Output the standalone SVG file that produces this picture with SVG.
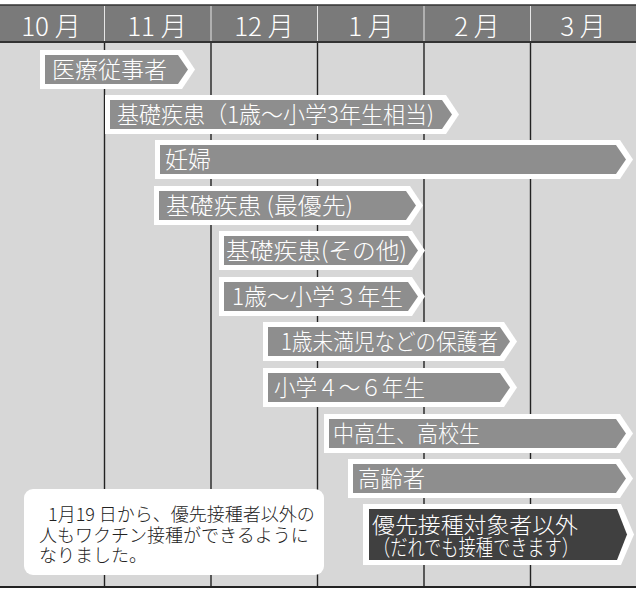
<svg xmlns="http://www.w3.org/2000/svg" width="636" height="590" viewBox="0 0 636 590">
<style>
.hdr{fill:#7a7a7a}
.mon{font-family:"Noto Sans CJK JP","Noto Sans",sans-serif;font-weight:300;font-size:26px;fill:#ffffff;text-anchor:middle}
.vl{stroke:#222;stroke-width:1.4}
.hl{stroke:#e6e6e6;stroke-width:1}
.ow{fill:#ffffff}
.in{fill:#8e8e8e}
.ind{fill:#404040}
.lb{font-family:"Noto Sans CJK JP","Noto Sans",sans-serif;font-weight:300;font-size:23px;fill:#ffffff}
.lb2{font-family:"Noto Sans CJK JP","Noto Sans",sans-serif;font-weight:300;font-size:22px;fill:#ffffff}
.nt{font-family:"Noto Sans CJK JP","Noto Sans",sans-serif;font-weight:300;font-size:18px;fill:#222222}
</style>
<rect x="0" y="0" width="636" height="590" fill="#ffffff"/>
<g id="grid">
<rect x="0" y="42" width="636" height="545" fill="#d7d7d7"/>
<rect class="hdr" x="0" y="5" width="636" height="37"/>
<line x1="0" y1="5" x2="636" y2="5" stroke="#333" stroke-width="1.5"/>
<line x1="0" y1="42" x2="636" y2="42" stroke="#333" stroke-width="2"/>
<line x1="0" y1="587" x2="636" y2="587" stroke="#222" stroke-width="2"/>
<line class="hl" x1="104.5" y1="6" x2="104.5" y2="41"/>
<line class="hl" x1="211" y1="6" x2="211" y2="41"/>
<line class="hl" x1="317.5" y1="6" x2="317.5" y2="41"/>
<line class="hl" x1="424" y1="6" x2="424" y2="41"/>
<line class="hl" x1="530.5" y1="6" x2="530.5" y2="41"/>
<line class="vl" x1="104.5" y1="43" x2="104.5" y2="586"/>
<line class="vl" x1="211" y1="43" x2="211" y2="586"/>
<line class="vl" x1="317.5" y1="43" x2="317.5" y2="586"/>
<line class="vl" x1="424" y1="43" x2="424" y2="586"/>
<line class="vl" x1="530.5" y1="43" x2="530.5" y2="586"/>
<text class="mon" x="51" y="36">10 月</text>
<text class="mon" x="157" y="36">11 月</text>
<text class="mon" x="264" y="36">12 月</text>
<text class="mon" x="371" y="36">1 月</text>
<text class="mon" x="477" y="36">2 月</text>
<text class="mon" x="583" y="36">3 月</text>
</g>
<g id="connectors"/>
<g id="n1">
<polygon class="ow" points="40,50 182,50 195,69.5 182,89 40,89"/>
<polygon class="in" points="45,55 178,55 188,69.5 178,84 45,84"/>
<text class="lb" x="52" y="78" textLength="115" lengthAdjust="spacingAndGlyphs">医療従事者</text>
</g>
<g id="n2">
<polygon class="ow" points="105,95 446,95 459,114.5 446,134 105,134"/>
<polygon class="in" points="110,100 442,100 452,114.5 442,129 110,129"/>
<text class="lb" x="117" y="123" textLength="317" lengthAdjust="spacingAndGlyphs">基礎疾患（1歳～小学3年生相当)</text>
</g>
<g id="n3">
<polygon class="ow" points="155,140 620,140 633,159.5 620,179 155,179"/>
<polygon class="in" points="160,145 616,145 626,159.5 616,174 160,174"/>
<text class="lb" x="165" y="168">妊婦</text>
</g>
<g id="n4">
<polygon class="ow" points="154,186 410,186 423,205.5 410,225 154,225"/>
<polygon class="in" points="159,191 406,191 416,205.5 406,220 159,220"/>
<text class="lb" x="166" y="214" textLength="187" lengthAdjust="spacingAndGlyphs">基礎疾患 (最優先)</text>
</g>
<g id="n5">
<polygon class="ow" points="219,231 412,231 425,250.5 412,270 219,270"/>
<polygon class="in" points="224,236 408,236 418,250.5 408,265 224,265"/>
<text class="lb" x="226" y="259" textLength="181" lengthAdjust="spacingAndGlyphs">基礎疾患(その他)</text>
</g>
<g id="n6">
<polygon class="ow" points="219,277 412,277 425,296.5 412,316 219,316"/>
<polygon class="in" points="224,282 408,282 418,296.5 408,311 224,311"/>
<text class="lb" x="232" y="305" textLength="171" lengthAdjust="spacingAndGlyphs">1歳～小学３年生</text>
</g>
<g id="n7">
<polygon class="ow" points="263,322 504,322 517,341.5 504,361 263,361"/>
<polygon class="in" points="268,327 500,327 510,341.5 500,356 268,356"/>
<text class="lb" x="281" y="350" textLength="217" lengthAdjust="spacingAndGlyphs">1歳未満児などの保護者</text>
</g>
<g id="n8">
<polygon class="ow" points="263,368 504,368 517,387.5 504,407 263,407"/>
<polygon class="in" points="268,373 500,373 510,387.5 500,402 268,402"/>
<text class="lb" x="274" y="396" textLength="151" lengthAdjust="spacingAndGlyphs">小学４～６年生</text>
</g>
<g id="n9">
<polygon class="ow" points="324,414 620,414 633,433.5 620,453 324,453"/>
<polygon class="in" points="329,419 616,419 626,433.5 616,448 329,448"/>
<text class="lb" x="333" y="442" textLength="147" lengthAdjust="spacingAndGlyphs">中高生、高校生</text>
</g>
<g id="n10">
<polygon class="ow" points="348,459 620,459 633,478.5 620,498 348,498"/>
<polygon class="in" points="353,464 616,464 626,478.5 616,493 353,493"/>
<text class="lb" x="358" y="487" textLength="67" lengthAdjust="spacingAndGlyphs">高齢者</text>
</g>
<g id="n11">
<polygon class="ow" points="363,504 621,504 634,534.5 621,565 363,565"/>
<polygon class="ind" points="369,509 617,509 627,534.5 617,560 369,560"/>
<text class="lb2" x="372" y="533" textLength="206" lengthAdjust="spacingAndGlyphs">優先接種対象者以外</text>
<text class="lb2" x="373" y="555" textLength="206" lengthAdjust="spacingAndGlyphs">（だれでも接種できます）</text>
</g>
<g id="note">
<rect x="24" y="489" width="300" height="86" rx="9" ry="9" fill="#ffffff"/>
<text class="nt" x="48" y="521">1月19 日から、優先接種者以外の</text>
<text class="nt" x="39" y="542">人もワクチン接種ができるように</text>
<text class="nt" x="39" y="562">なりました。</text>
</g>
</svg>
